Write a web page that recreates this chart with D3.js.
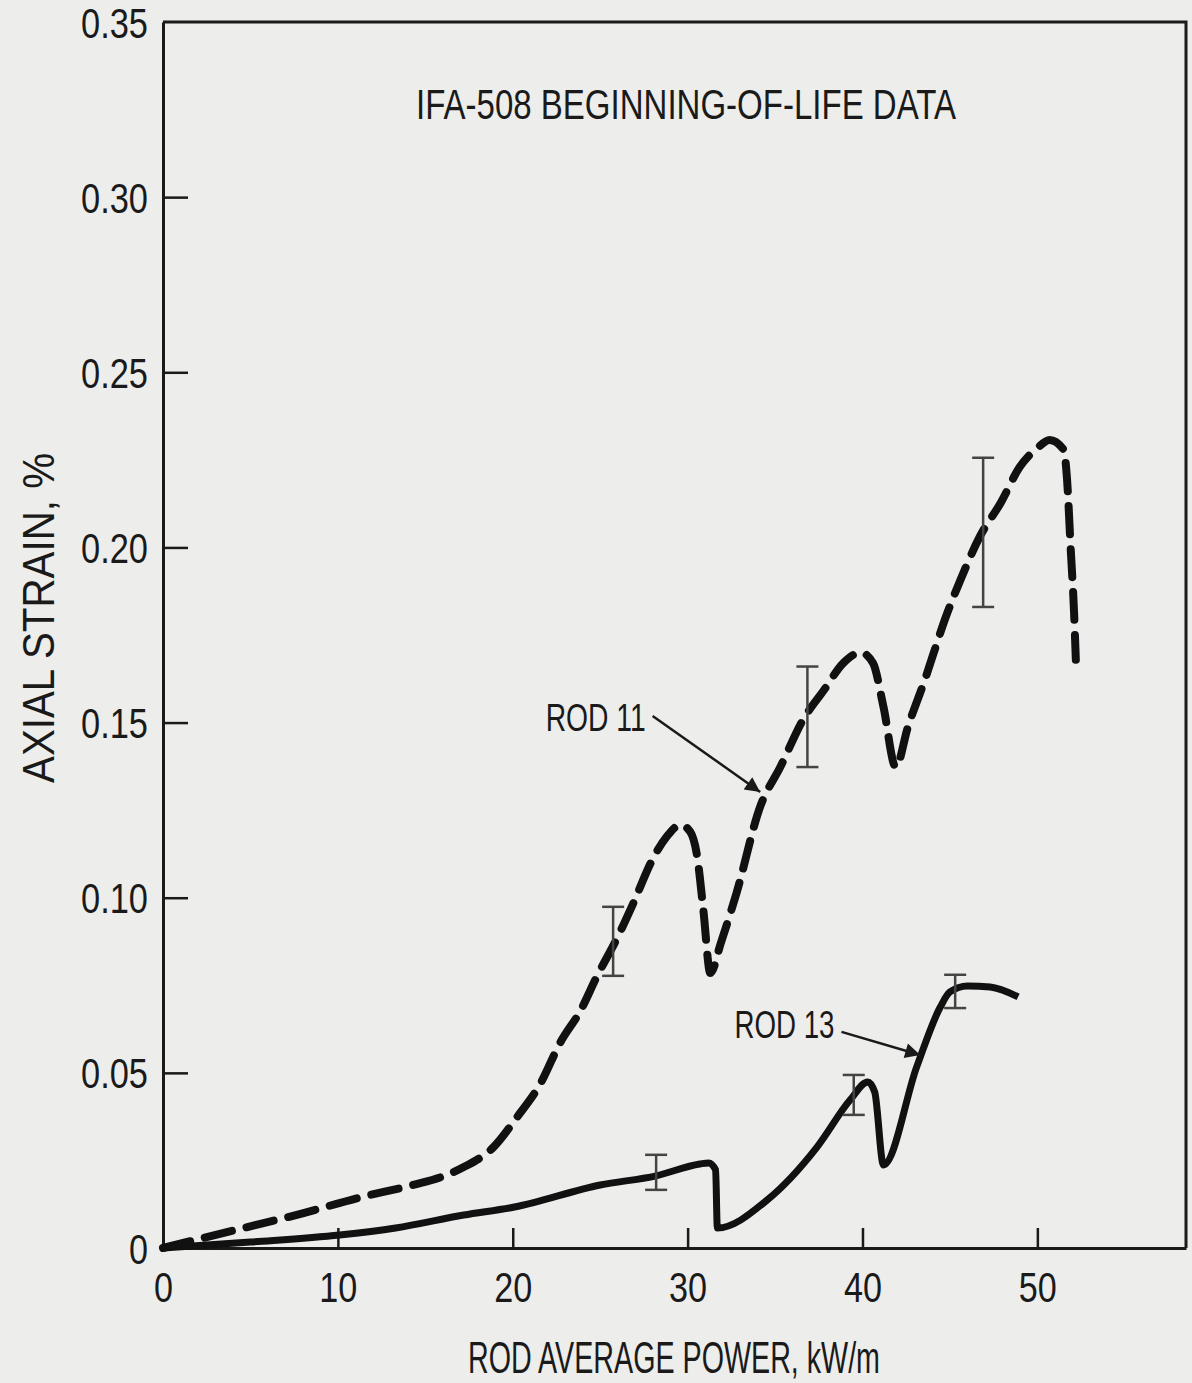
<!DOCTYPE html>
<html>
<head>
<meta charset="utf-8">
<script src="https://cdn.jsdelivr.net/npm/d3@7"></script>
<style>
  body { margin: 0; background: #ededeb; }
  text { font-family: "Liberation Sans", Arial, sans-serif; fill: #1a1a1a; }
</style>
</head>
<body>
<div id="chartDiv"></div>
<script>
// data (power kW/m, axial strain %)
const rod11Power  = [0, 4.6, 7.6, 11.4, 14.3, 16.2, 17.2, 18.9, 20.25, 21.6, 22.7, 23.9, 24.8, 26.0, 26.9, 28.0, 28.8, 29.6, 30.15, 30.55, 30.9, 31.3, 31.9, 32.8, 34.15, 35.3, 36.6, 37.8, 38.9, 39.9, 40.6, 41.2, 41.9, 42.6, 43.5, 44.85, 45.6, 46.7, 47.9, 49.0, 50.0, 50.7, 51.5, 51.7, 51.9, 52.1, 52.2];
const rod11Strain = [0, 0.0057, 0.0094, 0.0146, 0.018, 0.0208, 0.0231, 0.0288, 0.0374, 0.0471, 0.0585, 0.068, 0.0774, 0.0888, 0.0985, 0.111, 0.1174, 0.1208, 0.1188, 0.1117, 0.0965, 0.0785, 0.0871, 0.1014, 0.126, 0.1373, 0.1508, 0.1593, 0.167, 0.170, 0.167, 0.1545, 0.1373, 0.1488, 0.1613, 0.1813, 0.1907, 0.203, 0.2127, 0.223, 0.2284, 0.2307, 0.2279, 0.2193, 0.2002, 0.1813, 0.1679];

const rod13Power  = [0, 5.0, 10.1, 13.3, 17.2, 20.1, 25.0, 28.2, 30.7, 31.2, 31.6, 31.7, 34.55, 37.4, 39.3, 40.3, 40.7, 41.2, 43.1, 44.45, 45.0, 46.0, 47.3, 48.9];
const rod13Strain = [0, 0.0017, 0.0037, 0.0057, 0.0094, 0.0117, 0.018, 0.0206, 0.024, 0.0243, 0.0223, 0.0057, 0.0137, 0.0288, 0.0423, 0.0474, 0.0445, 0.0237, 0.0517, 0.0688, 0.0731, 0.0748, 0.0745, 0.0717];

// error bars: power, low, high
const rod11ErrPower = [25.74, 36.85, 46.9];
const rod11ErrLow   = [0.0777, 0.1373, 0.183];
const rod11ErrHigh  = [0.0974, 0.166, 0.2256];
const rod13ErrPower = [28.2, 39.5, 45.3];
const rod13ErrLow   = [0.0166, 0.038, 0.0685];
const rod13ErrHigh  = [0.0266, 0.0494, 0.078];

const xTicks = [0, 10, 20, 30, 40, 50];
const yTicks = [0, 0.05, 0.10, 0.15, 0.20, 0.25, 0.30, 0.35];

const W = 1192, H = 1383;
const svg = d3.select("#chartDiv").append("svg")
    .attr("width", W).attr("height", H);

const x = d3.scaleLinear().domain([0, 58.5]).range([163, 1186]);
const y = d3.scaleLinear().domain([0, 0.35]).range([1248, 22]);

// narrow-looking text: squeeze glyphs to a width from character count
const narrowLen = s => s.split("").reduce((a, c) => a + (c === "." ? 10 : 19), 0);

// frame (top + right)
svg.append("path")
    .attr("d", `M${x(0)},${y(0.35)}H${x(58.5)}V${y(0)}`)
    .attr("fill", "none").attr("stroke", "#1a1a1a").attr("stroke-width", 3);

// axes
const xAxis = svg.append("g")
    .attr("transform", `translate(0,${y(0)})`)
    .call(d3.axisBottom(x).tickValues(xTicks).tickSizeInner(-20).tickSizeOuter(0).tickPadding(24)
        .tickFormat(d3.format("d")));
const yAxis = svg.append("g")
    .attr("transform", `translate(${x(0)},0)`)
    .call(d3.axisLeft(y).tickValues(yTicks).tickSizeInner(-25).tickSizeOuter(0).tickPadding(15)
        .tickFormat(d => d === 0 ? "0" : d3.format(".2f")(d)));

[xAxis, yAxis].forEach(g => {
    g.select(".domain").attr("stroke", "#1a1a1a").attr("stroke-width", 3);
    g.selectAll(".tick line").attr("stroke", "#1a1a1a").attr("stroke-width", 2.5);
    g.selectAll(".tick text").attr("font-size", 42).attr("fill", "#1a1a1a")
        .style("font-family", '"Liberation Sans", Arial, sans-serif')
        .attr("lengthAdjust", "spacingAndGlyphs")
        .attr("textLength", function() { return narrowLen(this.textContent); });
});
xAxis.selectAll(".tick").filter(d => d === 0).select("line").remove();
yAxis.selectAll(".tick").filter(d => d === 0 || d === 0.35).select("line").remove();
yAxis.selectAll(".tick text").attr("dy", "0.36em");

// curves
const line = d3.line()
    .x(d => x(d[0])).y(d => y(d[1]))
    .curve(d3.curveMonotoneX);

svg.append("path")
    .datum(d3.zip(rod11Power, rod11Strain))
    .attr("d", line)
    .attr("fill", "none").attr("stroke", "#111")
    .attr("stroke-width", 8).attr("stroke-dasharray", "28,15")
    .attr("stroke-linecap", "round");

svg.append("path")
    .datum(d3.zip(rod13Power, rod13Strain))
    .attr("d", line)
    .attr("fill", "none").attr("stroke", "#111")
    .attr("stroke-width", 7).attr("stroke-linejoin", "round");

// error bars
const errs = d3.zip(rod11ErrPower, rod11ErrLow, rod11ErrHigh)
    .concat(d3.zip(rod13ErrPower, rod13ErrLow, rod13ErrHigh));
const eb = svg.append("g").attr("stroke", "#444").attr("stroke-width", 2.5);
errs.forEach(e => {
    eb.append("line").attr("x1", x(e[0])).attr("x2", x(e[0])).attr("y1", y(e[1])).attr("y2", y(e[2]));
    eb.append("line").attr("x1", x(e[0]) - 11).attr("x2", x(e[0]) + 11).attr("y1", y(e[1])).attr("y2", y(e[1]));
    eb.append("line").attr("x1", x(e[0]) - 11).attr("x2", x(e[0]) + 11).attr("y1", y(e[2])).attr("y2", y(e[2]));
});

// arrow marker
svg.append("defs").append("marker")
    .attr("id", "arr").attr("viewBox", "0 0 10 10")
    .attr("refX", 10).attr("refY", 5)
    .attr("markerWidth", 9).attr("markerHeight", 6).attr("markerUnits", "strokeWidth")
    .attr("orient", "auto")
    .append("path").attr("d", "M0,0L10,5L0,10z").attr("fill", "#1a1a1a");

// annotations
svg.append("text").attr("x", x(27.6)).attr("y", y(0.1475))
    .attr("text-anchor", "end").attr("font-size", 38)
    .attr("textLength", 100).attr("lengthAdjust", "spacingAndGlyphs").text("ROD 11");
svg.append("line")
    .attr("x1", x(28.0)).attr("y1", y(0.1519)).attr("x2", x(34.15)).attr("y2", y(0.1302))
    .attr("stroke", "#1a1a1a").attr("stroke-width", 2.5).attr("marker-end", "url(#arr)");

svg.append("text").attr("x", x(38.4)).attr("y", y(0.0600))
    .attr("text-anchor", "end").attr("font-size", 38)
    .attr("textLength", 100).attr("lengthAdjust", "spacingAndGlyphs").text("ROD 13");
svg.append("line")
    .attr("x1", x(38.8)).attr("y1", y(0.0617)).attr("x2", x(43.3)).attr("y2", y(0.0551))
    .attr("stroke", "#1a1a1a").attr("stroke-width", 2.5).attr("marker-end", "url(#arr)");

// title and axis labels
svg.append("text").attr("x", 686).attr("y", 119)
    .attr("text-anchor", "middle").attr("font-size", 42)
    .attr("textLength", 540).attr("lengthAdjust", "spacingAndGlyphs")
    .text("IFA-508 BEGINNING-OF-LIFE DATA");

svg.append("text").attr("x", 674).attr("y", 1373)
    .attr("text-anchor", "middle").attr("font-size", 44)
    .attr("textLength", 412).attr("lengthAdjust", "spacingAndGlyphs")
    .text("ROD AVERAGE POWER, kW/m");

svg.append("text")
    .attr("transform", "translate(54,618) rotate(-90)")
    .attr("text-anchor", "middle").attr("font-size", 44)
    .attr("textLength", 330).attr("lengthAdjust", "spacingAndGlyphs")
    .text("AXIAL STRAIN, %");
</script>
</body>
</html>
